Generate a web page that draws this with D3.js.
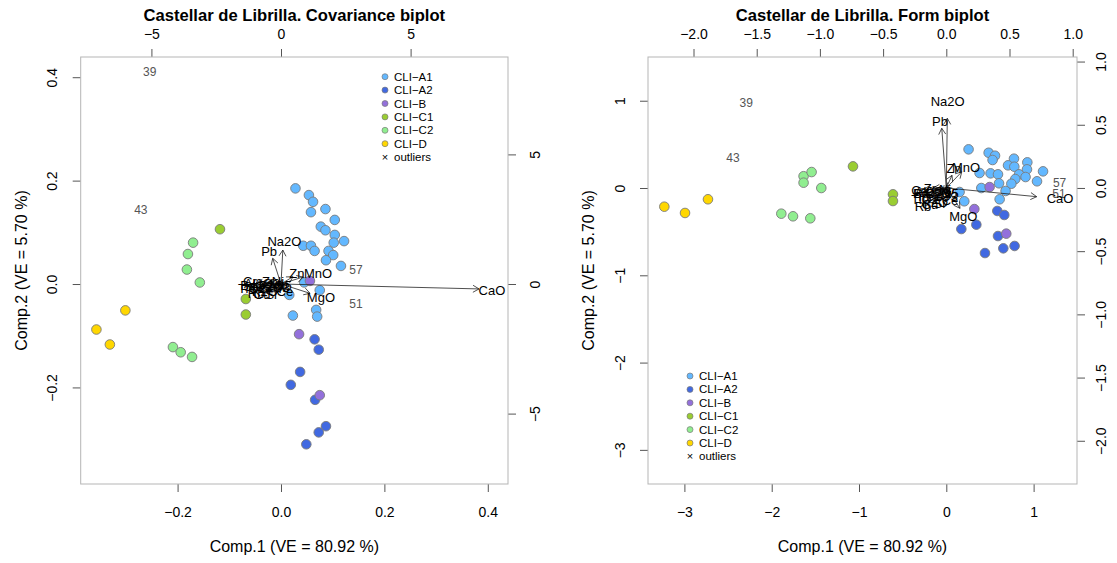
<!DOCTYPE html>
<html>
<head>
<meta charset="utf-8">
<script src="https://cdn.jsdelivr.net/npm/d3@7"></script>
<style>
  body { margin: 0; background: #fff; }
  text { font-family: "Liberation Sans", Arial, sans-serif; }
</style>
</head>
<body>
<div id="chart-area"></div>
<script>
// groups and colours
let groups = ["CLI\u2212A1", "CLI\u2212A2", "CLI\u2212B", "CLI\u2212C1", "CLI\u2212C2", "CLI\u2212D"];
let groupColors = ["#63B8FF", "#4169E1", "#9370DB", "#9ACD32", "#90EE90", "#FFD700"];

// covariance biplot scores (Comp.1, Comp.2)
let covA1 = [[0.028,0.185],[0.054,0.172],[0.062,0.159],[0.058,0.139],[0.086,0.145],[0.104,0.124],
             [0.077,0.111],[0.086,0.104],[0.104,0.095],[0.102,0.080],[0.122,0.083],[0.043,0.074],
             [0.058,0.074],[0.065,0.064],[0.092,0.064],[0.101,0.056],[0.087,0.046],[0.116,0.035],
             [0.045,0.003],[0.075,-0.012],[0.016,-0.021],[0.068,-0.050],[0.070,-0.063],[0.023,-0.061]];
let covA2 = [[0.065,-0.107],[0.073,-0.127],[0.037,-0.170],[0.019,-0.195],[0.066,-0.224],
             [0.087,-0.275],[0.073,-0.287],[0.049,-0.310]];
let covB  = [[0.056,0.006],[0.035,-0.097],[0.075,-0.215]];
let covC1 = [[-0.118,0.106],[-0.068,-0.029],[-0.068,-0.059]];
let covC2 = [[-0.170,0.080],[-0.180,0.058],[-0.182,0.028],[-0.157,0.003],[-0.209,-0.122],
             [-0.194,-0.132],[-0.172,-0.141]];
let covD  = [[-0.357,-0.088],[-0.331,-0.117],[-0.301,-0.051]];
let covOutNames = ["39", "43", "57", "51"];
let covOutPos = [[-0.254,0.410],[-0.271,0.143],[0.145,0.027],[0.145,-0.039]];

// form biplot scores
let formA1 = [[0.255,0.443],[0.485,0.404],[0.558,0.370],[0.530,0.321],[0.775,0.336],[0.928,0.294],
              [0.707,0.260],[0.779,0.244],[0.924,0.214],[1.108,0.191],[0.381,0.172],[0.507,0.168],
              [0.592,0.157],[0.833,0.157],[0.908,0.126],[0.790,0.103],[1.039,0.077],[0.604,0.054],
              [0.745,0.049],[0.401,0.000],[0.679,-0.034],[0.152,-0.046],[0.611,-0.129],[0.206,-0.152]];
let formA2 = [[0.584,-0.263],[0.664,-0.309],[0.172,-0.470],[0.344,-0.420],[0.592,-0.550],
              [0.653,-0.691],[0.782,-0.664],[0.443,-0.745]];
let formB  = [[0.496,0.011],[0.321,-0.241],[0.687,-0.523]];
let formC1 = [[-1.069,0.248],[-0.611,-0.072],[-0.611,-0.149]];
let formC2 = [[-1.635,0.135],[-1.543,0.183],[-1.635,0.061],[-1.432,0.000],[-1.890,-0.294],
              [-1.756,-0.324],[-1.558,-0.347]];
let formD  = [[-3.230,-0.214],[-2.993,-0.286],[-2.730,-0.129]];
let formOutNames = ["39", "43", "57", "51"];
let formOutPos = [[-2.291,0.979],[-2.443,0.344],[1.298,0.065],[1.291,-0.061]];

// variables (loadings, secondary axes)
let varNames = ["CaO","Na2O","Pb","Zn","MnO","MgO","SiO2","Al2O3","Fe2O3","TiO2","K2O","P2O5",
                "Ba","Rb","Sr","Zr","Y","Ce","Cr","Ni","V","Cu"];
let covVarTip = [[7.64,-0.19],[0.07,1.31],[-0.32,0.99],[0.46,0.28],[0.85,0.27],[1.12,-0.36],
                 [-0.70,-0.06],[-0.58,0.03],[-0.34,-0.12],[-0.90,-0.15],[-0.49,-0.22],[-0.18,-0.03],
                 [-1.02,-0.03],[-0.77,-0.28],[-0.28,-0.31],[-0.40,0.06],[-0.03,-0.15],[0.12,-0.22],
                 [-0.96,0.06],[-0.09,0.06],[0.09,-0.09],[-0.59,-0.34]];
let covVarLab = [[8.14,-0.23],[0.13,1.66],[-0.46,1.27],[0.61,0.39],[1.43,0.39],[1.54,-0.53],
                 [-0.89,-0.08],[-0.73,0.04],[-0.42,-0.15],[-1.12,-0.19],[-0.62,-0.27],[-0.23,-0.04],
                 [-1.27,-0.04],[-0.96,-0.35],[-0.35,-0.39],[-0.50,0.08],[-0.04,-0.19],[0.15,-0.27],
                 [-1.20,0.08],[-0.12,0.08],[0.12,-0.12],[-0.73,-0.42]];
let formVarTip = [[0.715,-0.069],[0.008,0.551],[-0.036,0.472],[0.045,0.100],[0.122,0.127],[0.108,-0.161],
                  [-0.116,-0.038],[-0.084,-0.019],[-0.052,-0.057],[-0.134,-0.070],[-0.071,-0.089],[-0.027,-0.032],
                  [-0.160,-0.038],[-0.147,-0.120],[-0.040,-0.095],[-0.103,0.000],[0.005,-0.050],[0.023,-0.076],
                  [-0.179,-0.013],[-0.008,-0.006],[0.023,-0.032],[-0.103,-0.107]];
let formVarLab = [[0.900,-0.085],[0.011,0.688],[-0.050,0.530],[0.061,0.158],[0.156,0.161],[0.134,-0.227],
                  [-0.145,-0.047],[-0.105,-0.024],[-0.065,-0.071],[-0.168,-0.087],[-0.089,-0.111],[-0.034,-0.040],
                  [-0.200,-0.047],[-0.184,-0.150],[-0.050,-0.119],[-0.129,0.000],[0.006,-0.063],[0.029,-0.095],
                  [-0.224,-0.016],[-0.010,-0.008],[0.029,-0.040],[-0.129,-0.134]];

// tick values
let covXTicks = [-0.2, 0.0, 0.2, 0.4];
let covYTicks = [-0.2, 0.0, 0.2, 0.4];
let covX2Ticks = [-5, 0, 5];
let covY2Ticks = [-5, 0, 5];
let formXTicks = [-3, -2, -1, 0, 1];
let formYTicks = [-3, -2, -1, 0, 1];
let formX2Ticks = [-2.0, -1.5, -1.0, -0.5, 0.0, 0.5, 1.0];
let formY2Ticks = [-2.0, -1.5, -1.0, -0.5, 0.0, 0.5, 1.0];

let svg = d3.select("#chart-area")
  .append("svg")
  .attr("width", 1117)
  .attr("height", 563);

let minus = s => s.replace("-", "\u2212");

function drawBiplot(p) {
  let g = svg.append("g");
  let x = d3.scaleLinear().domain(p.xDom).range([p.left, p.right]);
  let y = d3.scaleLinear().domain(p.yDom).range([p.bottom, p.top]);
  let x2 = d3.scaleLinear().domain(p.x2Dom).range([p.left, p.right]);
  let y2 = d3.scaleLinear().domain(p.y2Dom).range([p.bottom, p.top]);

  // axes
  let styleAxis = function(sel) {
    sel.select(".domain").remove();
    sel.selectAll(".tick line").attr("stroke", "#555");
    sel.selectAll(".tick text").attr("fill", "#000").style("font-size", "14px")
       .style("font-family", "'Liberation Sans', Arial, sans-serif");
  };
  g.append("g").attr("transform", `translate(0,${p.bottom})`)
    .call(d3.axisBottom(x).tickValues(p.xTicks).tickSize(8).tickPadding(15).tickFormat(d => minus(p.xFmt(d))))
    .call(styleAxis);
  g.append("g").attr("transform", `translate(0,${p.top})`)
    .call(d3.axisTop(x2).tickValues(p.x2Ticks).tickSize(8).tickPadding(10).tickFormat(d => minus(p.x2Fmt(d))))
    .call(styleAxis);
  let ya = g.append("g").attr("transform", `translate(${p.left},0)`)
    .call(d3.axisLeft(y).tickValues(p.yTicks).tickSize(8).tickFormat(d => minus(p.xFmt(d))))
    .call(styleAxis);
  ya.selectAll(".tick text").attr("x", null).attr("dy", "0.35em").attr("text-anchor", "middle")
    .attr("transform", `translate(${-p.yLabOff},0) rotate(-90)`);
  let y2a = g.append("g").attr("transform", `translate(${p.right},0)`)
    .call(d3.axisRight(y2).tickValues(p.y2Ticks).tickSize(8).tickFormat(d => minus(p.x2Fmt(d))))
    .call(styleAxis);
  y2a.selectAll(".tick text").attr("x", null).attr("dy", "0.35em").attr("text-anchor", "middle")
    .attr("transform", `translate(${p.y2LabOff},0) rotate(-90)`);

  // box
  g.append("rect")
    .attr("x", p.left).attr("y", p.top)
    .attr("width", p.right - p.left).attr("height", p.bottom - p.top)
    .attr("fill", "none").attr("stroke", "#b5b5b5");

  // titles
  let cx = (p.left + p.right) / 2;
  g.append("text").attr("x", cx).attr("y", 21).attr("text-anchor", "middle")
    .attr("font-size", "16.6px").attr("font-weight", "bold").text(p.title);
  g.append("text").attr("x", cx).attr("y", 552).attr("text-anchor", "middle")
    .attr("font-size", "16px").text("Comp.1 (VE = 80.92 %)");
  g.append("text").attr("text-anchor", "middle").attr("font-size", "16px")
    .attr("transform", `translate(${p.left - 54},${(p.top + p.bottom) / 2}) rotate(-90)`)
    .text("Comp.2 (VE = 5.70 %)");

  // points
  p.sets.forEach(function(pts, i) {
    g.selectAll(null).data(pts).enter().append("circle")
      .attr("cx", d => x(d[0])).attr("cy", d => y(d[1])).attr("r", 4.8)
      .attr("fill", groupColors[i]).attr("stroke", "#7a7a7a").attr("stroke-width", 0.9);
  });

  // outlier labels
  g.selectAll(null).data(p.outPos).enter().append("text")
    .attr("x", d => x(d[0])).attr("y", d => y(d[1])).attr("dy", "0.35em")
    .attr("text-anchor", "middle").attr("font-size", "12px").attr("fill", "#555")
    .text((d, i) => p.outNames[i]);

  // variable arrows
  let ox = x2(0), oy = y2(0);
  let arrows = g.append("g").attr("stroke", "#222").attr("stroke-width", 0.8).attr("fill", "none");
  p.varTip.forEach(function(t) {
    let tx = x2(t[0]), ty = y2(t[1]);
    let a = Math.atan2(ty - oy, tx - ox), len = 7, w = Math.PI / 6;
    arrows.append("path")
      .attr("d", `M${ox},${oy}L${tx},${ty}` +
        `M${tx - len * Math.cos(a - w)},${ty - len * Math.sin(a - w)}L${tx},${ty}` +
        `L${tx - len * Math.cos(a + w)},${ty - len * Math.sin(a + w)}`);
  });
  g.selectAll(null).data(p.varLab).enter().append("text")
    .attr("x", d => x2(d[0])).attr("y", d => y2(d[1])).attr("dy", "0.35em")
    .attr("text-anchor", "middle").attr("font-size", "13px").attr("fill", "#000")
    .text((d, i) => varNames[i]);

  // legend
  let leg = g.append("g").attr("transform", `translate(${p.legX},${p.legY})`);
  groups.forEach(function(name, i) {
    let row = leg.append("g").attr("transform", `translate(0,${i * 13.4})`);
    row.append("circle").attr("r", 3).attr("fill", groupColors[i]).attr("stroke", "#7a7a7a").attr("stroke-width", 0.7);
    row.append("text").attr("x", 9).attr("dy", "0.35em").attr("font-size", "11.5px").text(name);
  });
  let last = leg.append("g").attr("transform", `translate(0,${6 * 13.4})`);
  last.append("text").attr("text-anchor", "middle").attr("dy", "0.35em").attr("font-size", "11px").text("\u00d7");
  last.append("text").attr("x", 9).attr("dy", "0.35em").attr("font-size", "11.5px").text("outliers");
}

drawBiplot({
  title: "Castellar de Librilla. Covariance biplot",
  left: 80.7, right: 508, top: 57, bottom: 484,
  xDom: [-0.3874, 0.4391], yDom: [-0.3868, 0.4391],
  x2Dom: [-7.728, 8.758], y2Dom: [-7.716, 8.758],
  xTicks: covXTicks, yTicks: covYTicks, x2Ticks: covX2Ticks, y2Ticks: covY2Ticks,
  xFmt: d3.format(".1f"), x2Fmt: d3.format("d"),
  yLabOff: 29, y2LabOff: 27,
  sets: [covA1, covA2, covB, covC1, covC2, covD],
  outPos: covOutPos, outNames: covOutNames,
  varTip: covVarTip, varLab: covVarLab,
  legX: 385, legY: 76.7
});

drawBiplot({
  title: "Castellar de Librilla. Form biplot",
  left: 648, right: 1077, top: 57, bottom: 484,
  xDom: [-3.417, 1.497], yDom: [-3.391, 1.501],
  x2Dom: [-2.360, 1.034], y2Dom: [-2.342, 1.036],
  xTicks: formXTicks, yTicks: formYTicks, x2Ticks: formX2Ticks, y2Ticks: formY2Ticks,
  xFmt: d3.format("d"), x2Fmt: d3.format(".1f"),
  yLabOff: 28, y2LabOff: 24,
  sets: [formA1, formA2, formB, formC1, formC2, formD],
  outPos: formOutPos, outNames: formOutNames,
  varTip: formVarTip, varLab: formVarLab,
  legX: 690, legY: 376
});
</script>
</body>
</html>
